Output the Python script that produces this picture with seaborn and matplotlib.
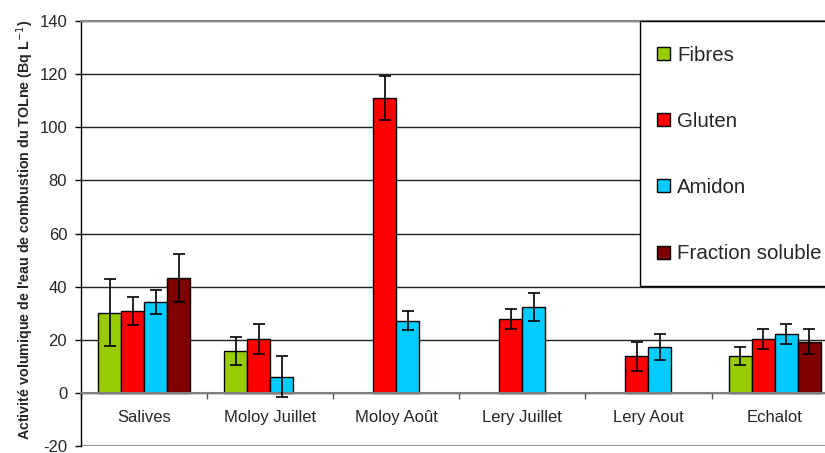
import numpy as np
import pandas as pd
import matplotlib
matplotlib.use('Agg')
import matplotlib.pyplot as plt
from matplotlib.patches import Patch, Rectangle
import seaborn as sns

nan = np.nan

categories = ['Salives', 'Moloy Juillet', 'Moloy Août', 'Lery Juillet', 'Lery Aout', 'Echalot']
series = ['Fibres', 'Gluten', 'Amidon', 'Fraction soluble']

fibres = [30.2, 15.9, nan, nan, nan, 13.8]
fibres_err = [12.6, 5.3, nan, nan, nan, 3.3]
gluten = [30.9, 20.2, 111.0, 27.9, 13.8, 20.2]
gluten_err = [5.3, 5.6, 8.3, 3.8, 5.4, 3.8]
amidon = [34.3, 6.1, 27.2, 32.3, 17.2, 22.3]
amidon_err = [4.6, 7.7, 3.6, 5.4, 5.0, 3.8]
fraction = [43.3, nan, nan, nan, nan, 19.3]
fraction_err = [9.0, nan, nan, nan, nan, 4.8]

colors = ['#99CC00', '#FF0000', '#00CCFF', '#800000']
yticks = [-20, 0, 20, 40, 60, 80, 100, 120, 140]

values = [fibres, gluten, amidon, fraction]
errors = [fibres_err, gluten_err, amidon_err, fraction_err]

rows = []
for s, vals, errs in zip(series, values, errors):
    for c, v, e in zip(categories, vals, errs):
        rows.append({'categorie': c, 'serie': s, 'valeur': v, 'err': e})
df = pd.DataFrame(rows)

sns.set_theme(style='white')
plt.rcParams['font.family'] = ['Liberation Sans', 'DejaVu Sans']
plt.rcParams['axes.unicode_minus'] = False

fig = plt.figure(figsize=(8.25, 4.53), dpi=100)
ax = fig.add_axes([0.0982, 0.01545, 1.0153 - 0.0982, 0.9536 - 0.01545])

group_w = 0.73
sns.barplot(data=df.dropna(subset=['valeur']), x='categorie', y='valeur', hue='serie',
            order=categories, hue_order=series, palette=colors, width=group_w,
            errorbar=None, legend=False, edgecolor='black', linewidth=1,
            saturation=1, ax=ax)

# error bars at the dodged bar centres
bar_w = group_w / len(series)
xs = np.arange(len(categories))
for j, (vals, errs) in enumerate(zip(values, errors)):
    ax.errorbar(xs + (j - 1.5) * bar_w, vals, yerr=errs, fmt='none',
                ecolor='black', elinewidth=1.2, capsize=4, capthick=1.2, zorder=5)

ax.set_ylim(-20, 140)
ax.set_xlim(-0.5, len(categories) - 0.5)
ax.set_yticks(yticks)
ax.set_xlabel('')
ax.set_ylabel("Activité volumique de l'eau de combustion du TOLne (Bq L$^{-1}$)",
              fontsize=10.3, fontweight='bold')
ax.yaxis.set_label_coords(-0.0594, 0.51)

ax.set_axisbelow(True)
ax.yaxis.grid(True, color='#222222', linewidth=1)
ax.xaxis.grid(False)

for side in ['left', 'top', 'right', 'bottom']:
    ax.spines[side].set_visible(True)
ax.spines['left'].set_color('black')
ax.spines['left'].set_linewidth(1)
ax.spines['top'].set_color('#888888')
ax.spines['top'].set_linewidth(1.5)
ax.spines['right'].set_visible(False)
ax.spines['bottom'].set_position(('data', 0))
ax.spines['bottom'].set_color('#808080')
ax.spines['bottom'].set_linewidth(1.5)
ax.axhline(-20, color='#909090', linewidth=2.2, zorder=1)

ax.set_xticks(np.arange(-0.5, len(categories), 1), minor=True)
ax.tick_params(axis='x', which='major', length=0, pad=12, labelsize=12)
ax.tick_params(axis='x', which='minor', length=4, width=1, color='#555555', direction='out', bottom=True)
ax.tick_params(axis='y', which='major', length=4, width=1, color='black', direction='out',
               left=True, pad=6, labelsize=12)

# legend box: framed area on the right, entries without their own frame
ax.add_patch(Rectangle((0.7388, 0.3765), 0.4, 0.6235, transform=ax.transAxes,
                       facecolor='white', edgecolor='black', linewidth=1, zorder=6,
                       clip_on=False))
handles = [Patch(facecolor=c, edgecolor='black', linewidth=1, label=s) for c, s in zip(colors, series)]
leg = ax.legend(handles=handles, loc='upper left', bbox_to_anchor=(0.7388, 0.9835),
                borderaxespad=0, fontsize=14.8, frameon=False, borderpad=0.85,
                labelspacing=2.3, handlelength=0.6, handleheight=0.6, handletextpad=0.35)
leg.set_zorder(7)

fig.savefig('out.png', dpi=100)
